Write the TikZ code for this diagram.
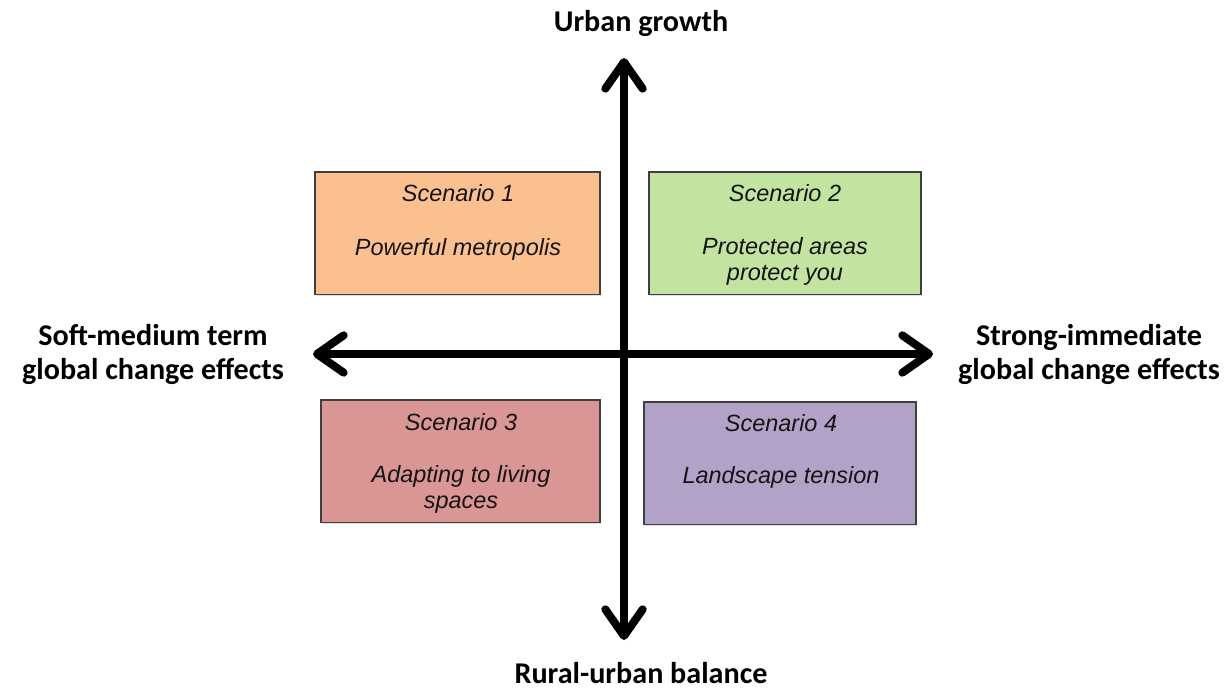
\documentclass[tikz,border=0pt]{standalone}
\usepackage{fontspec}
\setmainfont{Liberation Sans}
\newfontfamily\axisfont{Carlito}
\usetikzlibrary{arrows.meta,positioning,shadows}
\definecolor{peachfill}{HTML}{FAC090}
\definecolor{leaffill}{HTML}{C3E3A0}
\definecolor{rosefill}{HTML}{D99694}
\definecolor{lilacfill}{HTML}{B3A2C7}
\definecolor{edgegray}{HTML}{3F3F3F}

\begin{document}
\begin{tikzpicture}[
  x=0.75pt, y=-0.75pt,
  every node/.style={inner sep=0pt, outer sep=0pt},
  scenbox/.style={draw=edgegray, line width=0.8pt, anchor=north west, minimum height=92pt,
                  drop shadow={shadow xshift=0.8pt, shadow yshift=-0.8pt, opacity=0.25}},
  scentext/.style={font=\itshape\fontsize{17.6}{19.5}\selectfont, align=center, anchor=north, text=black!92},
  axislabel/.style={font=\axisfont\bfseries\fontsize{22.6}{25.5}\selectfont, align=center},
  axis/.style={line width=6pt, {Straight Barb[length=20pt,width=28pt,round]}-{Straight Barb[length=20pt,width=28pt,round]}},
]
  \useasboundingbox (0,0) rectangle (1231,691);

  % scenario boxes
  \node[scenbox, fill=peachfill, minimum width=213.75pt] (s1) at (315,172) {};
  \node[scenbox, fill=leaffill, minimum width=204pt] (s2) at (649,172) {};
  \node[scenbox, fill=rosefill, minimum width=209.25pt] (s3) at (321,400) {};
  \node[scenbox, fill=lilacfill, minimum width=204pt] (s4) at (644,402) {};

  \node[scentext] (t1) at (458,184) {Scenario 1};
  \node[scentext] (d1) at (458,238) {Powerful metropolis};
  \node[scentext] (t2) at (785,184) {Scenario 2};
  \node[scentext] (d2) at (785,237) {Protected areas\\protect you};
  \node[scentext] (t3) at (461,413) {Scenario 3};
  \node[scentext] (d3) at (461,465) {Adapting to living\\spaces};
  \node[scentext] (t4) at (781,414) {Scenario 4};
  \node[scentext] (d4) at (781,466) {Landscape tension};

  % axes
  \coordinate (ntip) at (624,58);
  \coordinate (stip) at (624,640);
  \coordinate (wtip) at (313,354);
  \coordinate (etip) at (933,354);
  \draw[axis] (stip) -- (ntip);
  \draw[axis] (wtip) -- (etip);

  \node[axislabel, anchor=base] (urban) at (641,32) {Urban growth};
  \node[axislabel, anchor=base] (rural) at (641,683) {Rural-urban balance};
  \node[axislabel, anchor=north] (soft) at (153,324) {Soft-medium term\\global change effects};
  \node[axislabel, anchor=north] (strong) at (1089,324) {Strong-immediate\\global change effects};
\end{tikzpicture}
\end{document}
